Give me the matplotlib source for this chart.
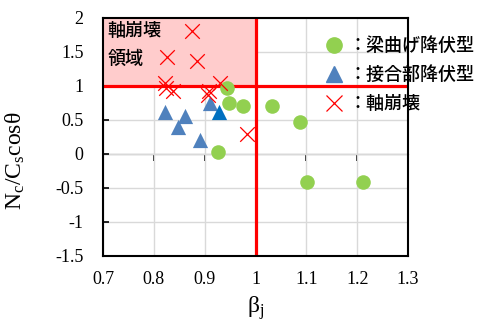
import matplotlib
matplotlib.use("Agg")
import matplotlib.pyplot as plt
from matplotlib.lines import Line2D

plt.rcParams['mathtext.fontset'] = 'custom'
plt.rcParams['mathtext.rm'] = 'Liberation Serif'
plt.rcParams['mathtext.it'] = 'Liberation Serif:italic'

# Data
beam_x = [0.943, 0.947, 0.975, 1.032, 0.927, 1.088, 1.101, 1.211]
beam_y = [0.97, 0.75, 0.70, 0.71, 0.025, 0.475, -0.416, -0.407]
joint_x = [0.822, 0.861, 0.848, 0.890, 0.911]
joint_y = [0.62, 0.56, 0.40, 0.206, 0.755]
joint2_x = [0.929]
joint2_y = [0.62]
axial_x = [0.875, 0.825, 0.884, 0.822, 0.824, 0.837, 0.909, 0.907, 0.930, 0.983]
axial_y = [1.81, 1.43, 1.37, 1.04, 0.975, 0.92, 0.92, 0.87, 1.05, 0.30]

xticks = [0.7, 0.8, 0.9, 1.0, 1.1, 1.2, 1.3]
xticklabels = ['0.7', '0.8', '0.9', '1', '1.1', '1.2', '1.3']
yticks = [-1.5, -1.0, -0.5, 0.0, 0.5, 1.0, 1.5, 2.0]
yticklabels = ['-1.5', '-1', '-0.5', '0', '0.5', '1', '1.5', '2']
legend_labels = ['：梁曲げ降伏型', '：接合部降伏型', '：軸崩壊']
region_text = '軸崩壊\n領域'

serif = 'Liberation Serif'
cjk = ['Noto Sans CJK JP', 'DejaVu Sans']

fig = plt.figure(figsize=(4.98, 3.31), dpi=100)
ax = fig.add_axes([103/498, 1-256/331, 305/498, 238/331])
ax.set_xlim(0.7, 1.3)
ax.set_ylim(-1.5, 2.0)

ax.set_xticks(xticks)
ax.set_xticklabels(xticklabels, fontfamily=serif, fontsize=13)
ax.set_yticks(yticks)
ax.set_yticklabels(yticklabels, fontfamily=serif, fontsize=13)
ax.tick_params(axis='x', length=0, pad=11)
ax.tick_params(axis='y', direction='in', length=4, width=1.2, pad=14)
ax.grid(True, color='#d9d9d9', linewidth=1.0, zorder=0)
ax.set_axisbelow(True)
for s in ax.spines.values():
    s.set_linewidth(1.5)
    s.set_color('black')

# axis line at y=0 with upward ticks
sec = ax.secondary_xaxis(1.5/3.5)
sec.set_xticks(xticks)
sec.set_xticklabels([])
sec.tick_params(axis='x', direction='out', length=5, width=1.2)
sec.spines['top'].set_linewidth(1.5)

# shaded region
ax.fill_between([0.7, 1.0], 1.0, 2.0, color='#ffcccc', zorder=1)
ax.axhline(1.0, color='#ff0000', linewidth=2.3, zorder=2)
ax.axvline(1.0, color='#ff0000', linewidth=2.3, zorder=2)
ax.text(0.709, 1.935, region_text, fontfamily=cjk, fontsize=13, va='top', ha='left',
        linespacing=1.65, fontweight='medium', zorder=3)

ax.scatter(beam_x, beam_y, s=110, marker='o', color='#92d050', zorder=4, linewidths=0)
ax.scatter(joint_x, joint_y, s=120, marker='^', color='#4f81bd', zorder=4, linewidths=0)
ax.scatter(joint2_x, joint2_y, s=120, marker='^', color='#0070c0', zorder=4, linewidths=0)
ax.scatter(axial_x, axial_y, s=110, marker='x', color='#ff0000', zorder=5, linewidths=0.9)

ax.set_xlabel('β$_\\mathrm{j}$', fontfamily=serif, fontsize=17, labelpad=4)
ax.set_ylabel('N$_\\mathrm{c}$/C$_\\mathrm{s}$cosθ', fontfamily=serif, fontsize=17)
ax.yaxis.set_label_coords(-0.25, 0.40)

handles = [
    Line2D([], [], marker='o', linestyle='none', color='#92d050', markersize=11),
    Line2D([], [], marker='^', linestyle='none', color='#4f81bd', markersize=12),
    Line2D([], [], marker='x', linestyle='none', color='#ff0000', markersize=11, markeredgewidth=0.9),
]
leg = fig.legend(handles, legend_labels, loc='upper left', bbox_to_anchor=(318/498, 1-30/331),
                 frameon=False, prop={'family': cjk, 'size': 13, 'weight': 'medium'},
                 handlelength=1.0, handletextpad=0.3, labelspacing=0.6, borderaxespad=0)

fig.savefig('out.png', dpi=100)
